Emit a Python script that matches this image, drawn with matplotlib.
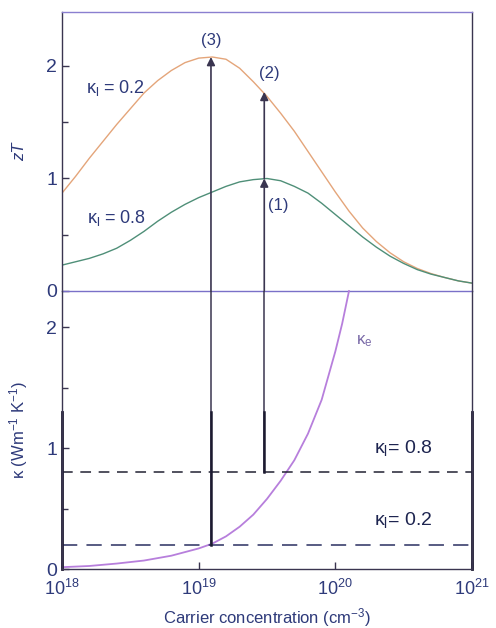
import matplotlib
matplotlib.use("Agg")
import matplotlib.pyplot as plt
import numpy as np

plt.rcParams['font.family'] = ['Liberation Sans', 'DejaVu Sans']
plt.rcParams['mathtext.fontset'] = 'custom'
plt.rcParams['mathtext.rm'] = 'Liberation Sans'
plt.rcParams['mathtext.it'] = 'Liberation Sans:italic'

# log10 of carrier concentration (cm^-3) for the zT curves
logn_zt = [18.0, 18.1, 18.2, 18.3, 18.4, 18.5, 18.6, 18.7, 18.8, 18.9,
           19.0, 19.1, 19.2, 19.3, 19.4, 19.5, 19.6, 19.7, 19.8, 19.9,
           20.0, 20.1, 20.2, 20.3, 20.4, 20.5, 20.6, 20.7, 20.8, 20.9, 21.0]
zt_kl02 = [0.87, 1.02, 1.18, 1.33, 1.48, 1.62, 1.76, 1.87, 1.96, 2.03,
           2.07, 2.08, 2.06, 1.98, 1.86, 1.73, 1.58, 1.42, 1.24, 1.06,
           0.88, 0.71, 0.56, 0.44, 0.34, 0.26, 0.20, 0.155, 0.12, 0.09, 0.07]
zt_kl08 = [0.23, 0.26, 0.29, 0.33, 0.38, 0.45, 0.53, 0.62, 0.70, 0.77,
           0.83, 0.88, 0.93, 0.97, 0.99, 1.00, 0.98, 0.93, 0.87, 0.78,
           0.68, 0.58, 0.48, 0.39, 0.31, 0.245, 0.19, 0.15, 0.12, 0.09, 0.07]

# electronic thermal conductivity
logn_ke = [18.0, 18.2, 18.4, 18.6, 18.8, 19.0, 19.1, 19.2, 19.3, 19.4,
           19.5, 19.6, 19.7, 19.8, 19.9, 20.0, 20.05, 20.1]
kappa_e = [0.015, 0.025, 0.045, 0.07, 0.11, 0.17, 0.21, 0.27, 0.35, 0.45,
           0.58, 0.73, 0.90, 1.12, 1.40, 1.80, 2.03, 2.30]

kappa_l = [0.8, 0.2]
# optimum doping for each lattice conductivity: (log n, zT max)
arrow_logn = [19.48, 19.09]
arrow_zt = [1.00, 2.08]
arrow2_zt = 1.77

xticks = [18, 19, 20, 21]

text_c = '#2e3a7a'
frame_c = '#3a3550'
violet = '#8a7fd0'

fig = plt.figure(figsize=(4.96, 6.28), dpi=100)
ax1 = fig.add_axes([62 / 496, 337 / 628, 410 / 496, 279 / 628])
ax2 = fig.add_axes([62 / 496, 59 / 628, 410 / 496, 278 / 628])

for ax in (ax1, ax2):
    ax.set_xscale('log')
    ax.set_xlim(1e18, 1e21)
    ax.set_facecolor('none')
    for s in ax.spines.values():
        s.set_color(frame_c)
        s.set_linewidth(1.0)
    ax.tick_params(which='both', direction='in', colors=frame_c,
                   labelcolor=text_c, labelsize=14, length=5, width=1)
    ax.tick_params(which='minor', length=4)
    ax.xaxis.set_minor_locator(matplotlib.ticker.NullLocator())

# ---- zT panel
ax1.set_ylim(0, 2.48)
ax1.set_yticks([0, 1, 2])
ax1.set_yticks([0.5, 1.5], minor=True)
ax1.set_xticks([])
ax1.spines['top'].set_color(violet)
ax1.spines['bottom'].set_color('#7a70c8')
ax1.plot(10 ** np.array(logn_zt), zt_kl02, color='#e4a57a', lw=1.0)
ax1.plot(10 ** np.array(logn_zt), zt_kl08, color='#4f8f78', lw=1.0)
ax1.set_ylabel('zT', fontstyle='italic', fontsize=12, color=text_c, labelpad=14)

arrow_kw = dict(arrowstyle='-|>', color=frame_c, lw=1.2,
                mutation_scale=12, shrinkA=0, shrinkB=0)
for xn, zt in zip(arrow_logn, arrow_zt):
    ax1.annotate('', xy=(10 ** xn, zt), xytext=(10 ** xn, 0), arrowprops=arrow_kw)
ax1.annotate('', xy=(10 ** arrow_logn[0], arrow2_zt),
             xytext=(10 ** arrow_logn[0], arrow_zt[0]), arrowprops=arrow_kw)

ax1.text(10 ** arrow_logn[1], 2.23, '(3)', ha='center', va='center', fontsize=12, color=text_c)
ax1.text(10 ** (arrow_logn[0] + 0.04), 1.93, '(2)', ha='center', va='center', fontsize=12, color=text_c)
ax1.text(10 ** (arrow_logn[0] + 0.1), 0.76, '(1)', ha='center', va='center', fontsize=12, color=text_c)
ax1.text(10 ** 18.39, 1.80, r'κ$_{\rm l}$ = 0.2', ha='center', va='center', fontsize=13, color=text_c)
ax1.text(10 ** 18.4, 0.65, r'κ$_{\rm l}$ = 0.8', ha='center', va='center', fontsize=13, color=text_c)

# ---- thermal conductivity panel
ax2.set_ylim(0, 2.30)
ax2.set_yticks([0, 1, 2])
ax2.set_yticks([0.5, 1.5], minor=True)
ax2.set_xticks([10.0 ** k for k in xticks])
ax2.set_xticklabels([r'10$^{%d}$' % k for k in xticks], fontsize=13)
ax2.tick_params(axis='x', pad=7)
ax2.spines['top'].set_visible(False)
ax2.plot(10 ** np.array(logn_ke), kappa_e, color='#b77fdc', lw=1.3, clip_on=False)
ax2.text(10 ** 20.15, 1.86, r'κ$_{\rm e}$', fontsize=12, color='#7a6aa8')

ax2.axhline(kappa_l[0], color='#222233', lw=1.1, dashes=(7, 5))
ax2.axhline(kappa_l[1], color='#2a2f60', lw=1.1, dashes=(10, 6))
ax2.text(10 ** 20.5, kappa_l[0] + 0.12, r'κ$_{\rm l}$= 0.8', ha='center', va='bottom', fontsize=14, color='#1e2550')
ax2.text(10 ** 20.5, kappa_l[1] + 0.12, r'κ$_{\rm l}$= 0.2', ha='center', va='bottom', fontsize=14, color='#1e2550')

for xn, kl in zip(arrow_logn, kappa_l):
    ax2.plot([10 ** xn] * 2, [kl, 2.30], color=frame_c, lw=1.1)
    ax2.plot([10 ** xn] * 2, [kl, 1.30], color='#1c1a30', lw=1.8)
for xe in (1e18, 1e21):
    ax2.plot([xe, xe], [0, 1.30], color='#1c1a30', lw=2.0, clip_on=False)

ax2.set_ylabel('κ (Wm$^{-1}$ K$^{-1}$)', fontsize=12, color=text_c, labelpad=12)
ax2.set_xlabel('Carrier concentration (cm$^{-3}$)', fontsize=12, color=text_c, labelpad=5)

fig.savefig('out.png', dpi=100)
